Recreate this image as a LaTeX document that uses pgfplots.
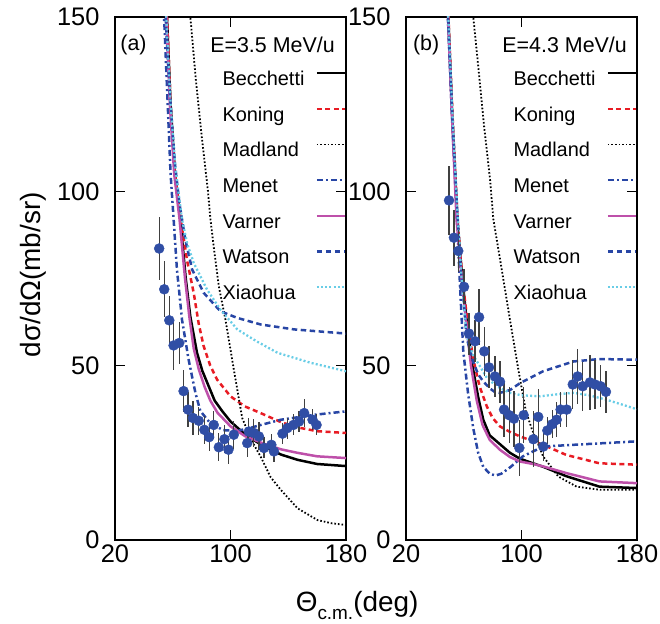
\documentclass[border=0pt]{standalone}
\usepackage{fontspec}
\setmainfont{Liberation Sans}
\usepackage{pgfplots}
\pgfplotsset{compat=1.18}
\usepackage{pgfplotstable}

\definecolor{mblue}{RGB}{48,78,165}
\definecolor{lblue}{RGB}{40,70,165}
\definecolor{kred}{RGB}{232,28,36}
\definecolor{vmag}{RGB}{190,80,170}
\definecolor{xcyan}{RGB}{105,205,230}

% experimental points: angle, cross section, error
\pgfplotstableread{
x y e
50.6 83.6 9
54.1 71.9 8
57.6 63.0 7
60.6 55.8 7
64.5 56.5 6
67.5 42.7 6
70.6 37.4 5
74.0 35.0 5
78.0 34.2 4
81.9 31.6 4
85.2 29.5 4
88.4 33.0 4
91.9 26.6 4
95.8 28.9 4
98.6 25.9 4
102.3 30.2 4
111.6 27.8 4
112.7 31.1 4
116.2 30.7 4
119.7 29.7 4
123.2 26.4 3
128.3 27.3 3
130.1 25.4 3
136.0 30.5 3
139.4 32.1 3
143.6 33.0 3
147.5 34.0 3
151.0 36.4 4
156.8 34.5 3
159.6 33.0 3
}\dataA

\pgfplotstableread{
x y e
49.8 97.4 10
53.2 86.7 8
56.2 82.9 6
60.2 72.6 5
63.6 59.2 6
67.8 57.0 6
70.6 63.9 8
74.2 54.1 7
77.5 49.5 6
81.6 46.9 6
85.1 45.4 6
87.9 37.4 8
91.5 35.8 8
94.8 34.8 8
98.5 26.4 8
101.5 35.8 8
108.2 28.9 8
111.6 35.3 8
115.1 26.8 4
117.9 31.4 4
121.3 33.2 4
124.4 34.5 5
127.1 37.4 5
131.3 37.4 5
135.5 44.6 7
138.9 46.9 8
142.4 44.1 7
147.4 45.2 8
150.9 44.6 7
154.8 44.1 6
158.5 42.5 6
}\dataB

\pgfplotsset{
  panel/.style={
    width=231bp, height=523bp, scale only axis,
    xmin=20, xmax=180, ymin=0, ymax=150,
    xtick={20,100,180}, ytick={0,50,100,150},
    xtick pos=both, ytick pos=both,
    xticklabel pos=lower, yticklabel pos=left,
    tick align=inside, major tick length=10bp,
    axis line style={line width=1.4bp},
    every tick/.style={black, line width=1bp},
    tick label style={font=\fontsize{25.5}{25.5}\selectfont},
    yticklabel style={xshift=-12bp},
    xticklabel style={yshift=-1bp},
    /pgf/number format/assume math mode=true,
    legend plot pos=right,
    legend cell align=left,
    legend image code/.code={\draw[##1] (0bp,7bp) -- (28bp,7bp);},
    legend style={draw=none, fill=none, at={(1,0.897)}, anchor=north east,
      inner sep=0pt, outer sep=0pt,
      font=\fontsize{20}{20}\selectfont,
      nodes={inner sep=0pt, text height=14.5bp, text depth=4bp},
      /tikz/row sep=17.2bp, /tikz/column sep=11bp},
  },
  bec/.style={black, line width=2.5bp},
  kon/.style={kred, line width=2.5bp, dash pattern=on 5bp off 3.5bp},
  mad/.style={black, line width=1.8bp, dash pattern=on 1.6bp off 2bp},
  men/.style={lblue, line width=2.5bp, dash pattern=on 6bp off 3bp on 2bp off 3bp},
  var/.style={vmag, line width=2.5bp},
  wat/.style={lblue, line width=2.5bp, dash pattern=on 5.5bp off 3.5bp},
  xia/.style={xcyan, line width=2.3bp, dash pattern=on 2bp off 2.2bp},
  pts/.style={only marks, mark=*, mark size=5bp, mblue,
    mark options={fill=mblue, draw=mblue},
    error bars/y dir=both, error bars/y explicit, error bars/error mark=none,
    error bars/error bar style={black!75, line width=1.2bp}},
}

\begin{document}
\begin{tikzpicture}
\useasboundingbox (0,0) rectangle (660bp,624bp);

\begin{axis}[panel, at={(115bp,84bp)}, anchor=south west,
  ylabel={dσ/dΩ(mb/sr)},
  every axis y label/.style={font=\fontsize{28}{28}\selectfont,
    at={([xshift=-82bp]rel axis cs:0,0.507)}, anchor=center, rotate=90},
  xlabel={Θ\raisebox{-0.32em}{\fontsize{19}{19}\selectfont c.m.}(deg)},
  xlabel style={font=\fontsize{28}{28}\selectfont, at={(rel axis cs:1.048,0)},
    anchor=base, yshift=-71bp},
]
\addplot[bec] coordinates {(55,160) (56,150) (58.5,125) (61.5,105) (65.2,92) (69,75) (72.2,64) (76.8,53.7) (80.5,48.5) (84.9,44.1) (89,40) (94.2,37) (100,34) (110,30.3) (123.2,26.8) (135,24.5) (146.4,23) (160,21.8) (180,21.2)};
\addlegendentry{Becchetti}
\addplot[kon] coordinates {(55,160) (56,150) (58.5,125) (61.5,105) (65.5,92) (70,80) (74.5,70.9) (78,62) (81.4,55.6) (86,50) (90.7,46) (100,41.2) (110,38.3) (120.9,36.4) (135,33.8) (146.4,32.3) (160,31.2) (180,30.7)};
\addlegendentry{Koning}
\addplot[mad] coordinates {(71.5,160) (72.2,150) (76,132) (80,116) (84.4,100) (86.1,92) (88.4,84) (91.9,72.8) (96.5,63.2) (102.3,48.9) (108.1,35) (114,29) (120.9,23.9) (127.8,18) (134.8,14.4) (146.4,9.1) (160.3,5.7) (170,4.8) (180,4.3)};
\addlegendentry{Madland}
\addplot[men] coordinates {(53,160) (54,150) (56.5,125) (58.5,105) (60.6,92) (62.9,77.6) (66.4,63.2) (71,51.7) (75.7,42.2) (79.1,37) (86,33.5) (95,31.5) (105,31.3) (115,32.3) (121,33) (135,34.5) (158,35.9) (180,36.9)};
\addlegendentry{Menet}
\addplot[var] coordinates {(54.5,160) (55.5,150) (58,125) (61,105) (64.7,92) (68.5,75) (71.5,64) (74.5,55) (78,49) (82,44) (86,40) (91,36.5) (100,32.6) (110,29.8) (123.2,27.6) (135,26) (146.4,25) (160,24) (180,23.5)};
\addlegendentry{Varner}
\addplot[wat] coordinates {(54,160) (55,150) (58,128) (61.5,108) (64.5,97) (66.4,92) (68.7,86.2) (73.4,77.6) (81.4,70.9) (93,65.6) (104.7,63.7) (121,61.8) (144,60.4) (180,59.2)};
\addlegendentry{Watson}
\addplot[xia] coordinates {(54.5,160) (55.5,150) (58.5,125) (62,106) (66.4,92) (70,85) (74.5,79.5) (83.8,71.8) (93,66.1) (104.7,60.4) (118,57) (132.5,53.7) (155.7,50.8) (180,48.4)};
\addlegendentry{Xiaohua}
\addplot[forget plot, pts] table[x=x, y=y, y error=e] {\dataA};
\node[font=\fontsize{21.5}{21.5}\selectfont, anchor=center] at (rel axis cs:0.08,0.946) {(a)};
\node[font=\fontsize{21.5}{21.5}\selectfont, anchor=east, inner sep=0pt] at (rel axis cs:0.952,0.946) {E=3.5 MeV/u};
\end{axis}

\begin{axis}[panel, at={(406bp,84bp)}, anchor=south west]
\addplot[bec] coordinates {(48.5,160) (49.3,150) (52,122) (55.5,92) (59,75) (62,63) (66,50) (70,41) (73.5,34.5) (78,30) (85,27.5) (92,25) (99,23.3) (108,22) (115,21) (131,18.3) (154,15.3) (180,14.9)};
\addlegendentry{Becchetti}
\addplot[kon] coordinates {(48.6,160) (49.4,150) (52.2,122) (55.7,92) (59,75) (62.5,63) (66.5,52) (71,44) (76,38.3) (80,35) (85,32.6) (92,31) (99,29.7) (115,27.3) (131,24.4) (154,22) (180,21.6)};
\addlegendentry{Koning}
\addplot[mad] coordinates {(66,160) (66.6,150) (70,136) (74,119) (78.2,103.5) (80.5,92) (86.3,77.6) (92,63.2) (97.8,48.9) (103,37) (107,32) (115.1,23.9) (125.5,18.2) (138.2,15.3) (154.4,14.4) (180,14.4)};
\addlegendentry{Madland}
\addplot[men] coordinates {(48.2,160) (49,150) (52,120) (55,95) (57.4,73) (59.7,54) (63,42) (66.6,32) (70,25) (73.5,21) (78,19) (82,18.5) (86,19) (92,20.8) (101,24) (115,26.8) (136,27.3) (180,28.3)};
\addlegendentry{Menet}
\addplot[var] coordinates {(48.3,160) (49.1,150) (51.8,122) (55,92) (58.5,75) (61.5,63) (65,50) (69,40) (73,33) (78,28.7) (85,25.9) (92,23.8) (99,22.5) (108,21.8) (115,21.1) (131,19.2) (154,16.8) (180,16.3)};
\addlegendentry{Varner}
\addplot[wat] coordinates {(48.3,160) (49.1,150) (52,122) (55,98) (57.5,80) (59.7,70) (62,58) (66.6,51) (70,47.5) (73.5,45.5) (78,43.5) (82,42.3) (85.1,42.2) (92,43) (99,45) (115,48.4) (136,51.2) (154,51.9) (180,51.7)};
\addlegendentry{Watson}
\addplot[xia] coordinates {(48.5,160) (49.3,150) (52.2,122) (55.5,95) (58.5,75) (62,58.4) (66.5,53) (71.3,49.8) (76,46.5) (82.8,44.1) (92,42.2) (100,41.5) (112.8,41.2) (125,41.8) (135.9,42.2) (147,41.5) (159,40.2) (170,38.8) (180,37.5)};
\addlegendentry{Xiaohua}
\addplot[forget plot, pts] table[x=x, y=y, y error=e] {\dataB};
\node[font=\fontsize{21.5}{21.5}\selectfont, anchor=center] at (rel axis cs:0.087,0.946) {(b)};
\node[font=\fontsize{21.5}{21.5}\selectfont, anchor=east, inner sep=0pt] at (rel axis cs:0.957,0.946) {E=4.3 MeV/u};
\end{axis}
\end{tikzpicture}
\end{document}
